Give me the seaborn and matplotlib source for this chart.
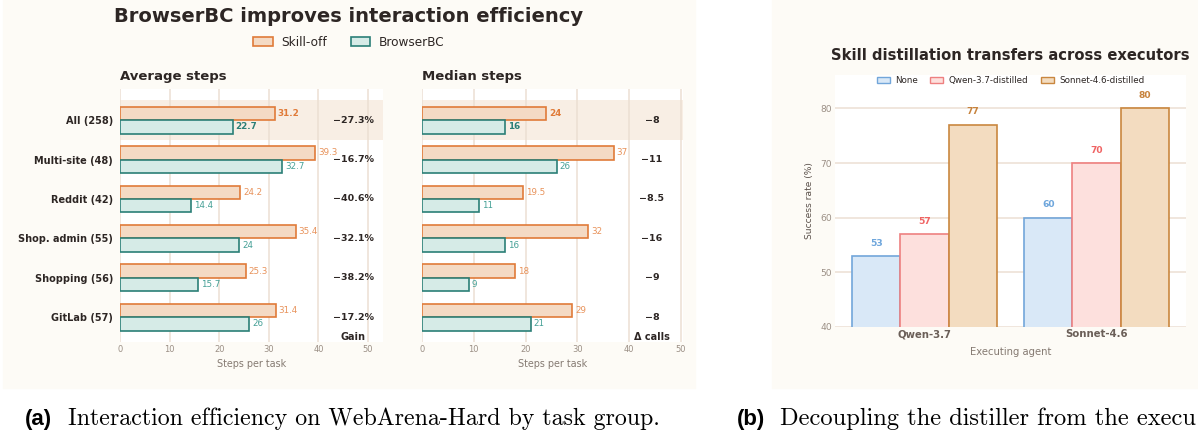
import numpy as np
import pandas as pd
import matplotlib
matplotlib.use("Agg")
import matplotlib.pyplot as plt
from matplotlib.patches import Patch, Rectangle
import seaborn as sns

# ---- data (a) ----
groups = ["All (258)", "Multi-site (48)", "Reddit (42)", "Shop. admin (55)", "Shopping (56)", "GitLab (57)"]
avg_off = [31.2, 39.3, 24.2, 35.4, 25.3, 31.4]
avg_bc = [22.7, 32.7, 14.4, 24, 15.7, 26]
avg_gain = ["\u221227.3%", "\u221216.7%", "\u221240.6%", "\u221232.1%", "\u221238.2%", "\u221217.2%"]
med_off = [24, 37, 19.5, 32, 18, 29]
med_bc = [16, 26, 11, 16, 9, 21]
med_delta = ["\u22128", "\u221211", "\u22128.5", "\u221216", "\u22129", "\u22128"]
settings = ["Skill-off", "BrowserBC"]

# ---- data (b) ----
agents = ["Qwen-3.7", "Sonnet-4.6"]
distillers = ["None", "Qwen-3.7-distilled", "Sonnet-4.6-distilled"]
rate_none = [53, 60]
rate_qwen = [57, 70]
rate_sonnet = [77, 80]

# colours
cream = "#fdfbf6"
band = "#f8eee4"
gridc = "#ecdfd3"
dark = "#2d2624"
tickc = "#9b8f85"
labc = "#857a72"
fill_a = {"Skill-off": "#f4dac4", "BrowserBC": "#d6ebe7"}
edge_a = {"Skill-off": "#e07b39", "BrowserBC": "#2b7f77"}
txt_a = {"Skill-off": "#e8925a", "BrowserBC": "#45a096"}
fill_b = {"None": "#d9e8f7", "Qwen-3.7-distilled": "#fde0dd", "Sonnet-4.6-distilled": "#f3dcc0"}
edge_b = {"None": "#72a6da", "Qwen-3.7-distilled": "#ee8080", "Sonnet-4.6-distilled": "#c9873f"}
txt_b = {"None": "#6ea6dc", "Qwen-3.7-distilled": "#f06464", "Sonnet-4.6-distilled": "#c7833d"}

W, H = 1198, 432
sns.set_theme(style="white")
plt.rcParams["font.family"] = ["DejaVu Sans"]
fig = plt.figure(figsize=(W / 100, H / 100), dpi=100, facecolor="white")

def fx(px):
    return px / W

def fy(py):
    return 1 - py / H

# panel backgrounds
fig.patches.append(Rectangle((fx(3), fy(388)), fx(692), 388 / H, transform=fig.transFigure,
                             color=cream, zorder=-5))
fig.patches.append(Rectangle((fx(772), fy(388)), fx(430), 388 / H, transform=fig.transFigure,
                             color=cream, zorder=-5))


def hbar_panel(ax, off, bc, right_col, head, xmax, col_x, col_head, show_labels):
    df = pd.DataFrame({
        "group": groups * 2,
        "steps": off + bc,
        "setting": ["Skill-off"] * len(groups) + ["BrowserBC"] * len(groups),
    })
    ax.axhspan(-0.5, 0.5, color=band, zorder=0, lw=0)
    sns.barplot(data=df, y="group", x="steps", hue="setting", hue_order=settings, orient="h",
                palette=fill_a, saturation=1, width=0.68, legend=False, ax=ax, zorder=3)
    for cont, s in zip(ax.containers, settings):
        vals = off if s == "Skill-off" else bc
        for i, (bar, v) in enumerate(zip(cont, vals)):
            bar.set_edgecolor(edge_a[s])
            bar.set_linewidth(1.2)
            bold = i == 0
            ax.text(bar.get_width() + 0.6, bar.get_y() + bar.get_height() / 2, f"{v:g}",
                    va="center", ha="left", fontsize=6.3,
                    color=edge_a[s] if bold else txt_a[s],
                    fontweight="bold" if bold else "normal", zorder=4)
    for i, t in enumerate(right_col):
        ax.text(col_x, i, t, ha="center", va="center", fontsize=6.8, fontweight="bold", color=dark)
    ax.text(col_x, 5.5, col_head, ha="center", va="center", fontsize=7, fontweight="bold", color=dark)
    ax.set_xlim(0, xmax)
    ax.set_ylim(5.63, -0.79)
    ax.set_xticks([0, 10, 20, 30, 40, 50])
    ax.grid(axis="x", color=gridc, lw=1.1)
    ax.grid(axis="y", visible=False)
    ax.set_axisbelow(True)
    for sp in ax.spines.values():
        sp.set_visible(False)
    ax.tick_params(axis="x", length=0, pad=2, labelsize=6, labelcolor=tickc)
    ax.tick_params(axis="y", length=0, pad=5, labelsize=7, labelcolor=dark, labelleft=show_labels)
    for lab in ax.get_yticklabels():
        lab.set_fontweight("bold")
    ax.set_ylabel("")
    ax.set_xlabel("Steps per task", fontsize=6.9, color=labc, labelpad=4)
    ax.text(0, 1.051, head, transform=ax.transAxes, ha="left", va="center", fontsize=9.5,
            fontweight="bold", color=dark)


ax1 = fig.add_axes([fx(120), fy(342), fx(263), 253 / H])
ax2 = fig.add_axes([fx(422), fy(342), fx(261), 253 / H])
hbar_panel(ax1, avg_off, avg_bc, avg_gain, "Average steps", 53, 47, "Gain", True)
hbar_panel(ax2, med_off, med_bc, med_delta, "Median steps", 50.4, 44.4, "\u0394 calls", False)

fig.text(fx(349), fy(17), "BrowserBC improves interaction efficiency", ha="center", va="center",
         fontsize=14, fontweight="bold", color=dark)
handles_a = [Patch(facecolor=fill_a[s], edgecolor=edge_a[s], lw=1.2, label=s) for s in settings]
fig.legend(handles=handles_a, loc="center", bbox_to_anchor=(fx(349), fy(42)), ncol=2,
           frameon=False, fontsize=8.7, handlelength=1.6, handleheight=0.8, columnspacing=2.0,
           handletextpad=0.7, labelcolor=dark)

# ---- panel (b) ----
ax3 = fig.add_axes([fx(835), fy(327), fx(351), 252 / H])
dfb = pd.DataFrame({
    "agent": agents * 3,
    "rate": rate_none + rate_qwen + rate_sonnet,
    "distiller": [d for d in distillers for _ in agents],
})
sns.barplot(data=dfb, x="agent", y="rate", hue="distiller", hue_order=distillers, palette=fill_b,
            saturation=1, width=0.84, legend=False, ax=ax3, zorder=3)
for cont, d in zip(ax3.containers, distillers):
    for bar in cont:
        bar.set_edgecolor(edge_b[d])
        bar.set_linewidth(1.2)
    ax3.bar_label(cont, labels=[f"{v:g}" for v in dfb.loc[dfb.distiller == d, "rate"]],
                  padding=6, fontsize=6.6, fontweight="bold", color=txt_b[d])
ax3.set_ylim(40, 86.1)
ax3.set_xlim(-0.52, 1.52)
ax3.set_yticks([40, 50, 60, 70, 80])
ax3.grid(axis="y", color=gridc, lw=1.1)
ax3.grid(axis="x", visible=False)
ax3.set_axisbelow(True)
for sp in ax3.spines.values():
    sp.set_visible(False)
ax3.tick_params(axis="y", length=0, pad=2, labelsize=6.6, labelcolor=tickc)
ax3.tick_params(axis="x", length=0, pad=1.5, labelsize=7.3, labelcolor="#6b5f58")
for lab in ax3.get_xticklabels():
    lab.set_fontweight("bold")
ax3.set_ylabel("Success rate (%)", fontsize=6.6, color="#5a504a", labelpad=5)
ax3.set_xlabel("Executing agent", fontsize=7.2, color=labc, labelpad=6)
ax3.set_title("Skill distillation transfers across executors", fontsize=10.6, fontweight="bold",
              color=dark, pad=11)
handles_b = [Patch(facecolor=fill_b[d], edgecolor=edge_b[d], lw=1.0, label=d) for d in distillers]
ax3.legend(handles=handles_b, loc="center", bbox_to_anchor=(0.5, 0.978), ncol=3, frameon=False,
           fontsize=6.3, handlelength=1.5, handleheight=0.8, columnspacing=1.4, handletextpad=0.6,
           labelcolor=dark)

# ---- captions (the (b) caption is cut at the right edge in the source) ----
fig.text(fx(25), fy(425), "(a)", ha="left", va="baseline", fontsize=16, fontweight="bold",
         family="Liberation Sans", color="black")
fig.text(fx(68), fy(425), "Interaction efficiency on WebArena-Hard by task group.", ha="left",
         va="baseline", fontsize=17.2, family="cmr10", color="black")
fig.text(fx(737), fy(425), "(b)", ha="left", va="baseline", fontsize=16, fontweight="bold",
         family="Liberation Sans", color="black")
fig.text(fx(780), fy(425), "Decoupling the distiller from the execu", ha="left",
         va="baseline", fontsize=17.6, family="cmr10", color="black")

fig.savefig("out.png", dpi=100, facecolor="white")
